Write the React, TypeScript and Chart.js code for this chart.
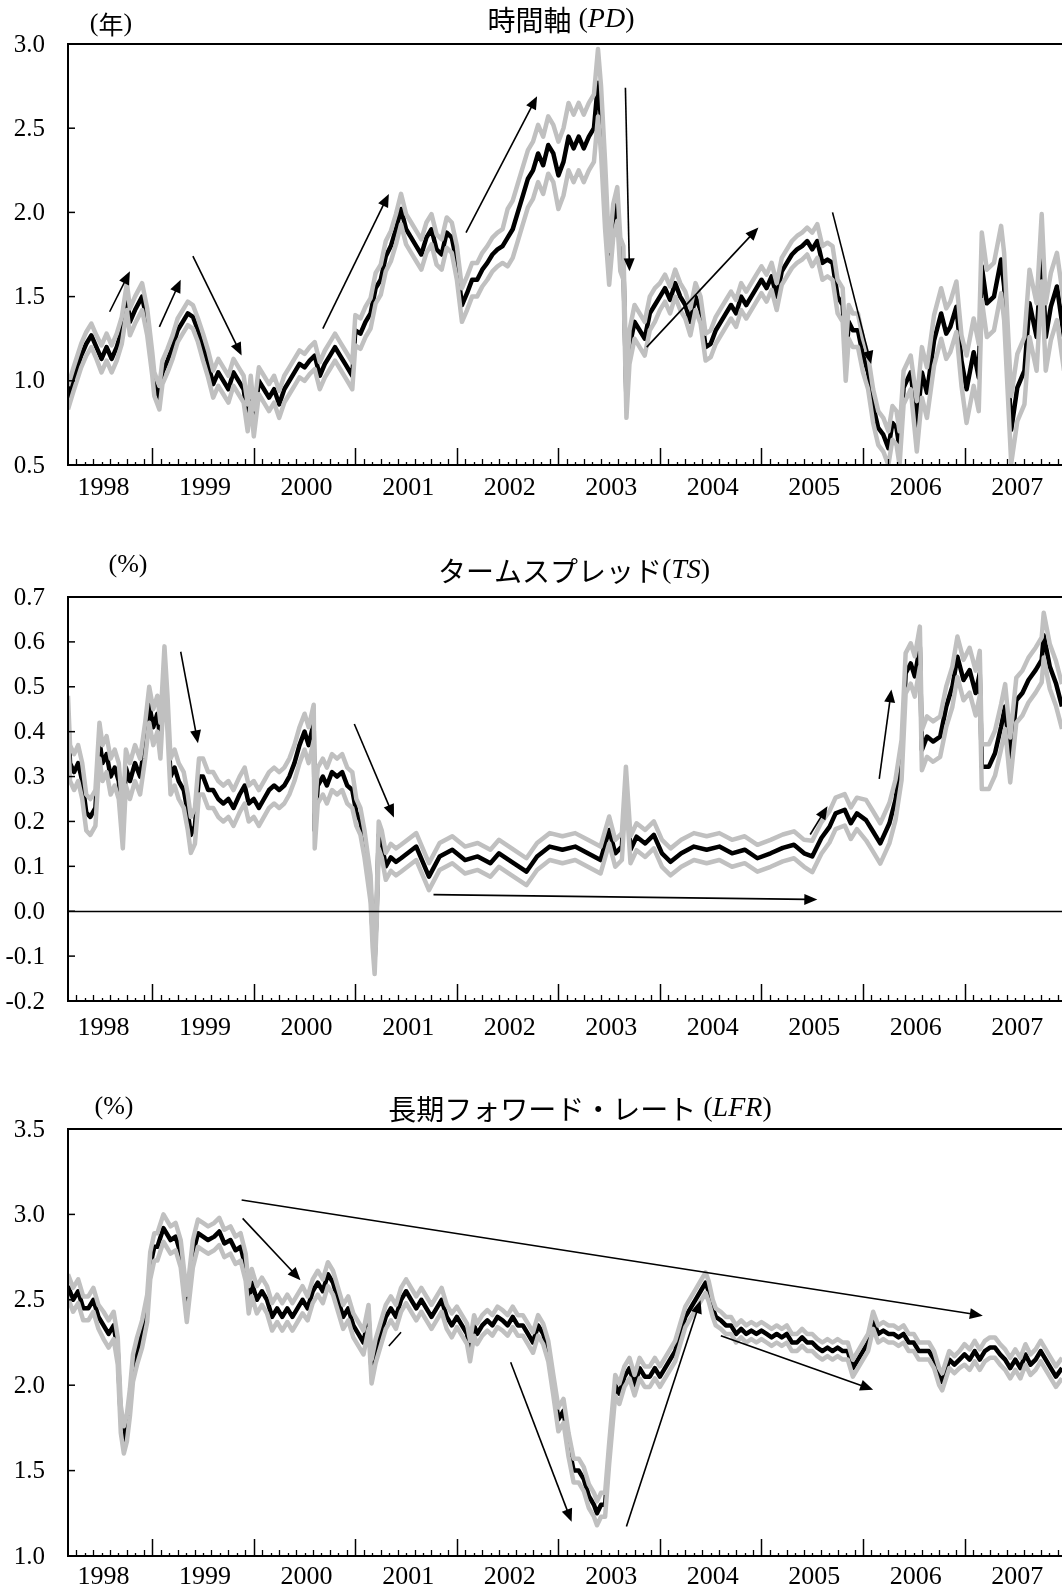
import React, { useEffect, useRef } from "react";
import { Chart, registerables } from "chart.js";

Chart.register(...registerables);

// ---------------- shared axis data ----------------
const X_MIN = 1998.17;
const X_MAX = 2007.96;
const yearLabels = ["1998", "1999", "2000", "2001", "2002", "2003", "2004", "2005", "2006", "2007"];
const yearBoundaries = [1999, 2000, 2001, 2002, 2003, 2004, 2005, 2006, 2007];

// ---------------- PD (時間軸) ----------------
const pdX = [
  1998.17, 1998.22, 1998.3, 1998.35, 1998.4, 1998.45, 1998.5, 1998.55, 1998.6, 1998.65,
  1998.7, 1998.75, 1998.78, 1998.83, 1998.9, 1998.95, 1999.0, 1999.02, 1999.07, 1999.1,
  1999.15, 1999.2, 1999.25, 1999.3, 1999.35, 1999.4, 1999.45, 1999.5, 1999.55, 1999.6,
  1999.65, 1999.7, 1999.75, 1999.8, 1999.85, 1999.9, 1999.94, 1999.97, 2000.0, 2000.05,
  2000.1, 2000.15, 2000.2, 2000.25, 2000.3, 2000.35, 2000.4, 2000.45, 2000.5, 2000.55,
  2000.6, 2000.65, 2000.7, 2000.75, 2000.8, 2000.85, 2000.9, 2000.97, 2001.0, 2001.05,
  2001.1, 2001.15, 2001.2, 2001.25, 2001.3, 2001.35, 2001.4, 2001.45, 2001.5, 2001.55,
  2001.6, 2001.65, 2001.7, 2001.75, 2001.8, 2001.85, 2001.9, 2001.95, 2002.0, 2002.05,
  2002.1, 2002.15, 2002.2, 2002.25, 2002.3, 2002.35, 2002.4, 2002.45, 2002.5, 2002.55,
  2002.6, 2002.65, 2002.7, 2002.75, 2002.8, 2002.85, 2002.9, 2002.95, 2003.0, 2003.05,
  2003.1, 2003.15, 2003.2, 2003.25, 2003.3, 2003.35, 2003.39, 2003.42, 2003.46, 2003.5,
  2003.54, 2003.58, 2003.61, 2003.64, 2003.67, 2003.7, 2003.75, 2003.8, 2003.85, 2003.9,
  2003.95, 2004.0, 2004.05, 2004.1, 2004.15, 2004.2, 2004.25, 2004.3, 2004.35, 2004.4,
  2004.45, 2004.5, 2004.55, 2004.6, 2004.65, 2004.7, 2004.75, 2004.8, 2004.85, 2004.9,
  2004.95, 2005.0, 2005.05, 2005.1, 2005.15, 2005.2, 2005.25, 2005.3, 2005.35, 2005.4,
  2005.45, 2005.5, 2005.55, 2005.6, 2005.65, 2005.7, 2005.75, 2005.8, 2005.83, 2005.86,
  2005.9, 2005.95, 2006.0, 2006.05, 2006.1, 2006.15, 2006.2, 2006.25, 2006.29, 2006.33,
  2006.36, 2006.4, 2006.47, 2006.53, 2006.58, 2006.63, 2006.7, 2006.77, 2006.82, 2006.86,
  2006.92, 2006.97, 2007.02, 2007.09, 2007.14, 2007.17, 2007.22, 2007.29, 2007.36, 2007.39,
  2007.46, 2007.52, 2007.59, 2007.64, 2007.71, 2007.76, 2007.8, 2007.85, 2007.91, 2007.98,
];
const pdY = [
  0.9, 1.0, 1.15, 1.22, 1.27, 1.2, 1.13, 1.2, 1.13, 1.2,
  1.3, 1.5, 1.35, 1.42, 1.5, 1.35, 1.1, 0.98, 0.9, 1.05,
  1.12, 1.2, 1.3, 1.35, 1.4, 1.38, 1.3, 1.2, 1.1, 0.98,
  1.05, 1.0, 0.95, 1.05, 1.0, 0.95, 0.78, 0.95, 0.75, 1.0,
  0.95, 0.9, 0.95, 0.86, 0.95, 1.0, 1.05, 1.1, 1.08, 1.12,
  1.15, 1.03, 1.1, 1.15, 1.2, 1.15, 1.1, 1.03, 1.3, 1.28,
  1.35, 1.4, 1.55, 1.6, 1.74, 1.8, 1.9, 2.02, 1.9, 1.85,
  1.8, 1.75, 1.85, 1.9, 1.78, 1.75, 1.88, 1.85, 1.7, 1.45,
  1.52, 1.6, 1.6, 1.66, 1.7, 1.75, 1.78, 1.8, 1.85, 1.9,
  2.0, 2.1, 2.2, 2.25, 2.35, 2.28, 2.4, 2.35, 2.22, 2.3,
  2.45, 2.38, 2.45, 2.38, 2.45, 2.5, 2.77, 2.55, 2.1, 1.67,
  1.95, 2.05, 1.75, 1.7, 0.88, 1.2, 1.35, 1.3, 1.25, 1.4,
  1.45, 1.5, 1.55, 1.48, 1.58, 1.5, 1.45, 1.35, 1.5, 1.42,
  1.2, 1.22, 1.3, 1.35, 1.4, 1.45, 1.4, 1.5, 1.45, 1.5,
  1.55, 1.6, 1.55, 1.62, 1.5, 1.65, 1.7, 1.75, 1.78, 1.8,
  1.83, 1.78, 1.83, 1.7, 1.72, 1.7, 1.5, 1.45, 1.1, 1.35,
  1.3, 1.3, 1.15, 1.05, 0.85, 0.72, 0.68, 0.6, 0.75, 0.72,
  0.6, 0.96, 1.05, 0.73, 1.05, 0.93, 1.24, 1.4, 1.28, 1.32,
  1.44, 1.12, 0.95, 1.17, 1.02, 1.68, 1.46, 1.5, 1.72, 1.56,
  0.71, 0.96, 1.06, 1.46, 1.26, 1.79, 1.26, 1.44, 1.56, 1.26,
];
// half-width of the grey band, per half-year from 1998H1 to 2007H2
const pdBand = [0.07, 0.08, 0.07, 0.08, 0.08, 0.08, 0.09, 0.09, 0.1, 0.17, 0.2, 0.1, 0.08, 0.08, 0.08, 0.1, 0.1, 0.15, 0.2, 0.2];
const pdTicks = [0.5, 1.0, 1.5, 2.0, 2.5, 3.0];

// ---------------- TS (タームスプレッド) ----------------
const tsX = [
  1998.17, 1998.19, 1998.23, 1998.27, 1998.31, 1998.35, 1998.39, 1998.44, 1998.48, 1998.51,
  1998.55, 1998.59, 1998.63, 1998.67, 1998.71, 1998.74, 1998.78, 1998.83, 1998.88, 1998.93,
  1998.97, 1999.01, 1999.05, 1999.08, 1999.12, 1999.15, 1999.18, 1999.22, 1999.26, 1999.31,
  1999.35, 1999.38, 1999.42, 1999.46, 1999.5, 1999.55, 1999.6, 1999.65, 1999.7, 1999.75,
  1999.8, 1999.86, 1999.91, 1999.95, 2000.0, 2000.05, 2000.1, 2000.15, 2000.2, 2000.25,
  2000.3, 2000.35, 2000.4, 2000.45, 2000.5, 2000.54, 2000.59, 2000.6, 2000.63, 2000.68,
  2000.72, 2000.77, 2000.82, 2000.87, 2000.92, 2000.97, 2001.01, 2001.05, 2001.09, 2001.12,
  2001.15, 2001.17, 2001.19, 2001.21, 2001.23, 2001.26, 2001.3, 2001.35, 2001.4, 2001.45,
  2001.6, 2001.725, 2001.83, 2001.955, 2002.08, 2002.205, 2002.33, 2002.415, 2002.54, 2002.685,
  2002.79, 2002.915, 2003.04, 2003.165, 2003.29, 2003.415, 2003.5, 2003.56, 2003.625, 2003.665,
  2003.71, 2003.77, 2003.855, 2003.94, 2004.02, 2004.105, 2004.21, 2004.335, 2004.46, 2004.585,
  2004.71, 2004.835, 2004.96, 2005.09, 2005.21, 2005.32, 2005.42, 2005.5, 2005.59, 2005.67,
  2005.73, 2005.82, 2005.88, 2005.94, 2006.03, 2006.09, 2006.17, 2006.26, 2006.32, 2006.38,
  2006.42, 2006.47, 2006.51, 2006.56, 2006.58, 2006.63, 2006.69, 2006.76, 2006.82, 2006.88,
  2006.93, 2006.99, 2007.05, 2007.11, 2007.15, 2007.17, 2007.24, 2007.3, 2007.36, 2007.4,
  2007.45, 2007.51, 2007.57, 2007.63, 2007.7, 2007.76, 2007.78, 2007.84, 2007.9, 2007.96,
];
const tsY = [
  0.44, 0.33, 0.31, 0.33, 0.29, 0.22, 0.21, 0.23, 0.38, 0.33,
  0.35, 0.3, 0.32, 0.29, 0.18, 0.32, 0.29, 0.33, 0.3, 0.38,
  0.46, 0.41, 0.44, 0.38, 0.55, 0.44, 0.3, 0.32, 0.29, 0.27,
  0.22, 0.17, 0.19, 0.3, 0.3, 0.27, 0.27, 0.25, 0.24, 0.25,
  0.23, 0.26, 0.28, 0.24, 0.25, 0.23, 0.25, 0.27, 0.28, 0.27,
  0.28, 0.3, 0.33, 0.37, 0.4, 0.37, 0.42, 0.18, 0.28, 0.3,
  0.28, 0.31, 0.3, 0.31, 0.28, 0.27, 0.22, 0.2, 0.15, 0.1,
  0.05, -0.05, -0.11, 0.0, 0.17, 0.15, 0.1, 0.12, 0.11, 0.118,
  0.144, 0.077, 0.122, 0.137, 0.114, 0.122, 0.107, 0.129, 0.11, 0.088,
  0.122, 0.144, 0.137, 0.144, 0.129, 0.114, 0.181, 0.129, 0.144, 0.292,
  0.137, 0.166, 0.151, 0.17, 0.129, 0.11, 0.129, 0.144, 0.137, 0.144,
  0.129, 0.137, 0.118, 0.129, 0.141, 0.148, 0.129, 0.122, 0.163, 0.188,
  0.218, 0.226, 0.196, 0.218, 0.203, 0.181, 0.151, 0.196, 0.248, 0.337,
  0.53, 0.552, 0.523, 0.589, 0.359, 0.389, 0.378, 0.389, 0.456, 0.5,
  0.567, 0.515, 0.537, 0.486, 0.53, 0.322, 0.322, 0.352, 0.411, 0.456,
  0.337, 0.47, 0.486, 0.515, 0.537, 0.56, 0.615, 0.545, 0.508, 0.456,
];
const tsBand = [0.04, 0.04, 0.04, 0.04, 0.04, 0.04, 0.03, 0.03, 0.03, 0.03, 0.03, 0.03, 0.03, 0.03, 0.03, 0.035, 0.045, 0.045, 0.05, 0.05];
const tsTicks = [-0.2, -0.1, 0.0, 0.1, 0.2, 0.3, 0.4, 0.5, 0.6, 0.7];

// ---------------- LFR (長期フォワード・レート) ----------------
const lfrX = [
  1998.17, 1998.22, 1998.27, 1998.32, 1998.37, 1998.42, 1998.47, 1998.52, 1998.57, 1998.62,
  1998.66, 1998.69, 1998.72, 1998.75, 1998.78, 1998.81, 1998.85, 1998.9, 1998.95, 1998.98,
  1999.02, 1999.05, 1999.11, 1999.18, 1999.23, 1999.28, 1999.34, 1999.4, 1999.45, 1999.5,
  1999.55, 1999.61, 1999.66, 1999.71, 1999.77, 1999.82, 1999.87, 1999.92, 1999.95, 1999.98,
  2000.03, 2000.08, 2000.13, 2000.18, 2000.23, 2000.28, 2000.33, 2000.38, 2000.43, 2000.48,
  2000.53, 2000.58, 2000.63, 2000.68, 2000.73, 2000.78, 2000.83, 2000.88, 2000.93, 2000.98,
  2001.03, 2001.08, 2001.13, 2001.16, 2001.2, 2001.25, 2001.3, 2001.35, 2001.4, 2001.45,
  2001.5, 2001.55, 2001.6, 2001.65, 2001.7, 2001.75, 2001.8, 2001.85, 2001.9, 2001.95,
  2002.0, 2002.05, 2002.1, 2002.13, 2002.17, 2002.2, 2002.25, 2002.3, 2002.35, 2002.4,
  2002.45, 2002.5, 2002.55, 2002.6, 2002.65, 2002.7, 2002.75, 2002.8, 2002.85, 2002.9,
  2002.95, 2003.0, 2003.05, 2003.1, 2003.15, 2003.2, 2003.25, 2003.3, 2003.35, 2003.38,
  2003.42, 2003.46, 2003.5, 2003.53, 2003.56, 2003.6, 2003.65, 2003.7, 2003.75, 2003.8,
  2003.85, 2003.9, 2003.95, 2004.0, 2004.05, 2004.1, 2004.15, 2004.2, 2004.25, 2004.3,
  2004.35, 2004.4, 2004.45, 2004.48, 2004.52, 2004.55, 2004.6, 2004.65, 2004.7, 2004.75,
  2004.8, 2004.85, 2004.9, 2004.95, 2005.0, 2005.05, 2005.1, 2005.15, 2005.2, 2005.25,
  2005.3, 2005.35, 2005.4, 2005.45, 2005.5, 2005.55, 2005.6, 2005.65, 2005.7, 2005.75,
  2005.8, 2005.85, 2005.9, 2005.95, 2006.0, 2006.05, 2006.1, 2006.15, 2006.2, 2006.25,
  2006.3, 2006.35, 2006.4, 2006.45, 2006.5, 2006.55, 2006.6, 2006.65, 2006.7, 2006.75,
  2006.78, 2006.85, 2006.9, 2006.95, 2007.0, 2007.05, 2007.1, 2007.15, 2007.2, 2007.25,
  2007.3, 2007.35, 2007.4, 2007.45, 2007.5, 2007.55, 2007.6, 2007.65, 2007.7, 2007.75,
  2007.8, 2007.85, 2007.9, 2007.96,
];
const lfrY = [
  2.58, 2.5, 2.55, 2.45, 2.45, 2.5, 2.4, 2.35, 2.3, 2.35,
  2.2, 1.8, 1.68, 1.75, 1.9, 2.1, 2.2, 2.3, 2.45, 2.7,
  2.81, 2.81, 2.92, 2.85, 2.87, 2.77, 2.45, 2.77, 2.89, 2.87,
  2.85, 2.87, 2.9, 2.83, 2.85, 2.79, 2.81, 2.69, 2.5, 2.6,
  2.5, 2.55, 2.5, 2.4, 2.45, 2.4, 2.45, 2.4, 2.45, 2.5,
  2.45, 2.55, 2.6, 2.55, 2.65, 2.6, 2.5, 2.4, 2.45, 2.35,
  2.3, 2.25, 2.4, 2.08, 2.2, 2.3, 2.4, 2.45, 2.4, 2.5,
  2.55, 2.5, 2.45, 2.5, 2.45, 2.4, 2.45, 2.5, 2.4, 2.35,
  2.4, 2.35, 2.3, 2.2, 2.35, 2.3, 2.35, 2.38, 2.35, 2.4,
  2.38, 2.35, 2.4, 2.35, 2.35, 2.3, 2.25, 2.35, 2.3, 2.2,
  2.0, 1.8, 1.85, 1.65, 1.5, 1.5, 1.45, 1.35, 1.3, 1.25,
  1.3, 1.3, 1.6, 1.8, 2.0, 1.95, 2.05, 2.1, 2.0, 2.1,
  2.05, 2.05, 2.1, 2.05, 2.1, 2.15, 2.2, 2.3, 2.4, 2.45,
  2.5, 2.55, 2.6, 2.55, 2.45, 2.4, 2.38, 2.35, 2.35, 2.3,
  2.33, 2.3, 2.32, 2.3, 2.32, 2.3, 2.28, 2.3, 2.28, 2.3,
  2.25, 2.25, 2.28, 2.25, 2.25, 2.22, 2.2, 2.22, 2.2, 2.22,
  2.2, 2.2, 2.1, 2.15, 2.2, 2.25, 2.38, 2.3, 2.32, 2.3,
  2.3, 2.28, 2.3, 2.25, 2.25, 2.2, 2.2, 2.2, 2.15, 2.05,
  2.02, 2.15, 2.12, 2.15, 2.18, 2.15, 2.2, 2.15, 2.2, 2.22,
  2.22, 2.18, 2.15, 2.1, 2.15, 2.1, 2.18, 2.12, 2.15, 2.2,
  2.15, 2.1, 2.05, 2.1,
];
const lfrBand = [0.07, 0.08, 0.08, 0.08, 0.08, 0.07, 0.07, 0.07, 0.06, 0.06, 0.07, 0.06, 0.06, 0.05, 0.05, 0.05, 0.05, 0.05, 0.06, 0.06];
const lfrTicks = [1.0, 1.5, 2.0, 2.5, 3.0, 3.5];

// annotation arrows: [x1, y1, x2, y2, hasHead] in data units
type Arrow = [number, number, number, number, boolean];
const pdArrows: Arrow[] = [
  [1998.58, 1.41, 1998.78, 1.65, true],
  [1999.07, 1.32, 1999.28, 1.6, true],
  [1999.4, 1.74, 1999.88, 1.15, true],
  [2000.68, 1.31, 2001.33, 2.11, true],
  [2002.09, 1.88, 2002.79, 2.69, true],
  [2003.66, 2.74, 2003.7, 1.65, true],
  [2003.87, 1.2, 2004.97, 1.91, true],
  [2005.7, 2.0, 2006.08, 1.1, true],
];
const tsArrows: Arrow[] = [
  [1999.28, 0.578, 1999.45, 0.374, true],
  [2000.99, 0.417, 2001.38, 0.209, true],
  [2001.77, 0.037, 2005.55, 0.026, true],
  [2005.48, 0.171, 2005.65, 0.234, true],
  [2006.16, 0.295, 2006.28, 0.494, true],
];
const lfrArrows: Arrow[] = [
  [1999.88, 3.084, 2007.18, 2.407, true],
  [1999.89, 2.977, 2000.46, 2.615, true],
  [2001.33, 2.23, 2001.45, 2.31, false],
  [2002.53, 2.134, 2003.13, 1.2, true],
  [2003.67, 1.172, 2004.4, 2.497, true],
  [2004.6, 2.289, 2006.1, 1.974, true],
];

const SERIF = '"Liberation Serif", "Times New Roman", serif';
const CJK = '"Noto Sans CJK JP", "Noto Sans CJK SC", sans-serif';

interface Run { text: string; font: string }
interface PanelSpec {
  xs: number[]; ys: number[]; band: number[]; ticks: number[];
  yMin: number; yMax: number; canvasTop: number; height: number;
  padTop: number; padBottom: number;
  title: Run[]; titleX: number; titleY: number;
  unit: Run[]; unitX: number; unitY: number;
  labelOffset: number; zeroLine: boolean; arrows: Arrow[];
}

function bandAt(band: number[], x: number): number {
  const i = Math.max(0, Math.min(band.length - 1, Math.floor((x - 1998) * 2)));
  return band[i];
}

function drawRuns(ctx: CanvasRenderingContext2D, runs: Run[], cx: number, cy: number) {
  let total = 0;
  const widths = runs.map((r) => { ctx.font = r.font; const w = ctx.measureText(r.text).width; total += w; return w; });
  let x = cx - total / 2;
  ctx.textAlign = "left";
  ctx.textBaseline = "middle";
  runs.forEach((r, i) => { ctx.font = r.font; ctx.fillText(r.text, x, cy); x += widths[i]; });
}

function makePlugin(spec: PanelSpec) {
  return {
    id: "panelDecor",
    afterDatasetsDraw(chart: any) {
      const ctx: CanvasRenderingContext2D = chart.ctx;
      const { left, right, top, bottom } = chart.chartArea;
      const xs = chart.scales.x;
      const ys = chart.scales.y;
      ctx.save();
      ctx.fillStyle = "#000";
      ctx.strokeStyle = "#000";

      if (spec.zeroLine) {
        const py = Math.round(ys.getPixelForValue(0)) + 0.5;
        ctx.lineWidth = 1.4;
        ctx.beginPath(); ctx.moveTo(left, py); ctx.lineTo(right, py); ctx.stroke();
      }

      ctx.lineWidth = 2;
      ctx.beginPath();
      ctx.moveTo(right, top); ctx.lineTo(left, top); ctx.lineTo(left, bottom); ctx.lineTo(right, bottom);
      ctx.stroke();

      ctx.lineWidth = 1.5;
      ctx.font = `25px ${SERIF}`;
      ctx.textAlign = "right";
      ctx.textBaseline = "middle";
      spec.ticks.forEach((v) => {
        const py = ys.getPixelForValue(v);
        ctx.beginPath(); ctx.moveTo(left, py); ctx.lineTo(left + 7, py); ctx.stroke();
        ctx.fillText(v.toFixed(1), left - 23, py + 1);
      });

      ctx.lineWidth = 1.5;
      yearBoundaries.forEach((t) => {
        const px = Math.round(xs.getPixelForValue(t)) + 0.5;
        ctx.beginPath(); ctx.moveTo(px, bottom); ctx.lineTo(px, bottom - 17); ctx.stroke();
      });
      ctx.lineWidth = 1.3;
      for (let yr = 1998; yr <= 2007; yr++) {
        for (let m = 1; m <= 11; m++) {
          const t = yr + m / 12;
          if (t <= X_MIN || t >= X_MAX) continue;
          const px = Math.round(xs.getPixelForValue(t)) + 0.5;
          const len = m % 2 === 1 ? 6 : 3;
          ctx.beginPath(); ctx.moveTo(px, bottom); ctx.lineTo(px, bottom - len); ctx.stroke();
        }
      }

      ctx.font = `26px ${SERIF}`;
      ctx.textAlign = "center";
      ctx.textBaseline = "middle";
      yearLabels.forEach((lab, i) => {
        const px = xs.getPixelForValue(1998 + i + 0.52);
        ctx.fillText(lab, px, bottom + spec.labelOffset);
      });

      ctx.lineWidth = 1.6;
      spec.arrows.forEach(([x1, y1, x2, y2, head]) => {
        const ax = xs.getPixelForValue(x1), ay = ys.getPixelForValue(y1);
        const bx = xs.getPixelForValue(x2), by = ys.getPixelForValue(y2);
        const ang = Math.atan2(by - ay, bx - ax);
        const hl = 13, hw = 5.5;
        const ex = head ? bx - Math.cos(ang) * hl * 0.8 : bx;
        const ey = head ? by - Math.sin(ang) * hl * 0.8 : by;
        ctx.beginPath(); ctx.moveTo(ax, ay); ctx.lineTo(ex, ey); ctx.stroke();
        if (head) {
          const bx0 = bx - Math.cos(ang) * hl, by0 = by - Math.sin(ang) * hl;
          ctx.beginPath();
          ctx.moveTo(bx, by);
          ctx.lineTo(bx0 + Math.sin(ang) * hw, by0 - Math.cos(ang) * hw);
          ctx.lineTo(bx0 - Math.sin(ang) * hw, by0 + Math.cos(ang) * hw);
          ctx.closePath();
          ctx.fill();
        }
      });

      drawRuns(ctx, spec.title, spec.titleX, spec.titleY);
      drawRuns(ctx, spec.unit, spec.unitX, spec.unitY);
      ctx.restore();
    },
  };
}

const unitPct: Run[] = [{ text: "(%)", font: `26px ${SERIF}` }];

const panels: PanelSpec[] = [
  {
    xs: pdX, ys: pdY, band: pdBand, ticks: pdTicks, yMin: 0.5, yMax: 3.0,
    canvasTop: 0, height: 520, padTop: 44, padBottom: 55,
    title: [
      { text: "時間軸", font: `28px ${CJK}` },
      { text: " (", font: `28px ${SERIF}` },
      { text: "PD", font: `italic 28px ${SERIF}` },
      { text: ")", font: `28px ${SERIF}` },
    ],
    titleX: 561, titleY: 20,
    unit: [
      { text: "(", font: `26px ${SERIF}` },
      { text: "年", font: `25px ${CJK}` },
      { text: ")", font: `26px ${SERIF}` },
    ],
    unitX: 111, unitY: 24,
    labelOffset: 23, zeroLine: false, arrows: pdArrows,
  },
  {
    xs: tsX, ys: tsY, band: tsBand, ticks: tsTicks, yMin: -0.2, yMax: 0.7,
    canvasTop: 520, height: 540, padTop: 77, padBottom: 59,
    title: [
      { text: "タームスプレッド", font: `28px ${CJK}` },
      { text: "(", font: `28px ${SERIF}` },
      { text: "TS", font: `italic 28px ${SERIF}` },
      { text: ")", font: `28px ${SERIF}` },
    ],
    titleX: 574, titleY: 51, unit: unitPct, unitX: 128, unitY: 45,
    labelOffset: 27, zeroLine: true, arrows: tsArrows,
  },
  {
    xs: lfrX, ys: lfrY, band: lfrBand, ticks: lfrTicks, yMin: 1.0, yMax: 3.5,
    canvasTop: 1060, height: 530, padTop: 69, padBottom: 34,
    title: [
      { text: "長期フォワード・レート", font: `28px ${CJK}` },
      { text: " (", font: `28px ${SERIF}` },
      { text: "LFR", font: `italic 28px ${SERIF}` },
      { text: ")", font: `28px ${SERIF}` },
    ],
    titleX: 580, titleY: 49, unit: unitPct, unitX: 114, unitY: 47,
    labelOffset: 21, zeroLine: false, arrows: lfrArrows,
  },
];

function Panel({ spec }: { spec: PanelSpec }) {
  const ref = useRef<HTMLCanvasElement | null>(null);
  useEffect(() => {
    if (!ref.current) return;
    const mid = spec.xs.map((x, i) => ({ x, y: spec.ys[i] }));
    const upper = spec.xs.map((x, i) => ({ x, y: spec.ys[i] + bandAt(spec.band, x) }));
    const lower = spec.xs.map((x, i) => ({ x, y: spec.ys[i] - bandAt(spec.band, x) }));
    const grey = { borderColor: "#c0c0c0", borderWidth: 4.5, pointRadius: 0, borderJoinStyle: "round" as const, fill: false };
    const chart = new Chart(ref.current, {
      type: "line",
      data: {
        datasets: [
          { ...grey, data: upper },
          { ...grey, data: lower },
          { borderColor: "#000", borderWidth: 4.5, pointRadius: 0, borderJoinStyle: "round" as const, fill: false, data: mid },
        ],
      },
      options: {
        responsive: false,
        animation: false,
        devicePixelRatio: 1,
        events: [],
        layout: { padding: { left: 68, right: 0, top: spec.padTop, bottom: spec.padBottom } },
        scales: {
          x: { type: "linear", min: X_MIN, max: X_MAX, display: false },
          y: { type: "linear", min: spec.yMin, max: spec.yMax, display: false },
        },
        elements: { line: { tension: 0 }, point: { radius: 0 } },
        plugins: { legend: { display: false }, tooltip: { enabled: false } },
      },
      plugins: [makePlugin(spec)],
    });
    return () => chart.destroy();
  }, [spec]);
  return (
    <canvas
      ref={ref}
      width={1062}
      height={spec.height}
      style={{ position: "absolute", left: 0, top: spec.canvasTop, display: "block" }}
    />
  );
}

export default function App() {
  return (
    <div style={{ position: "absolute", left: 0, top: 0, width: 1062, height: 1590, background: "#fff", overflow: "hidden" }}>
      {panels.map((p, i) => (
        <Panel key={i} spec={p} />
      ))}
    </div>
  );
}
